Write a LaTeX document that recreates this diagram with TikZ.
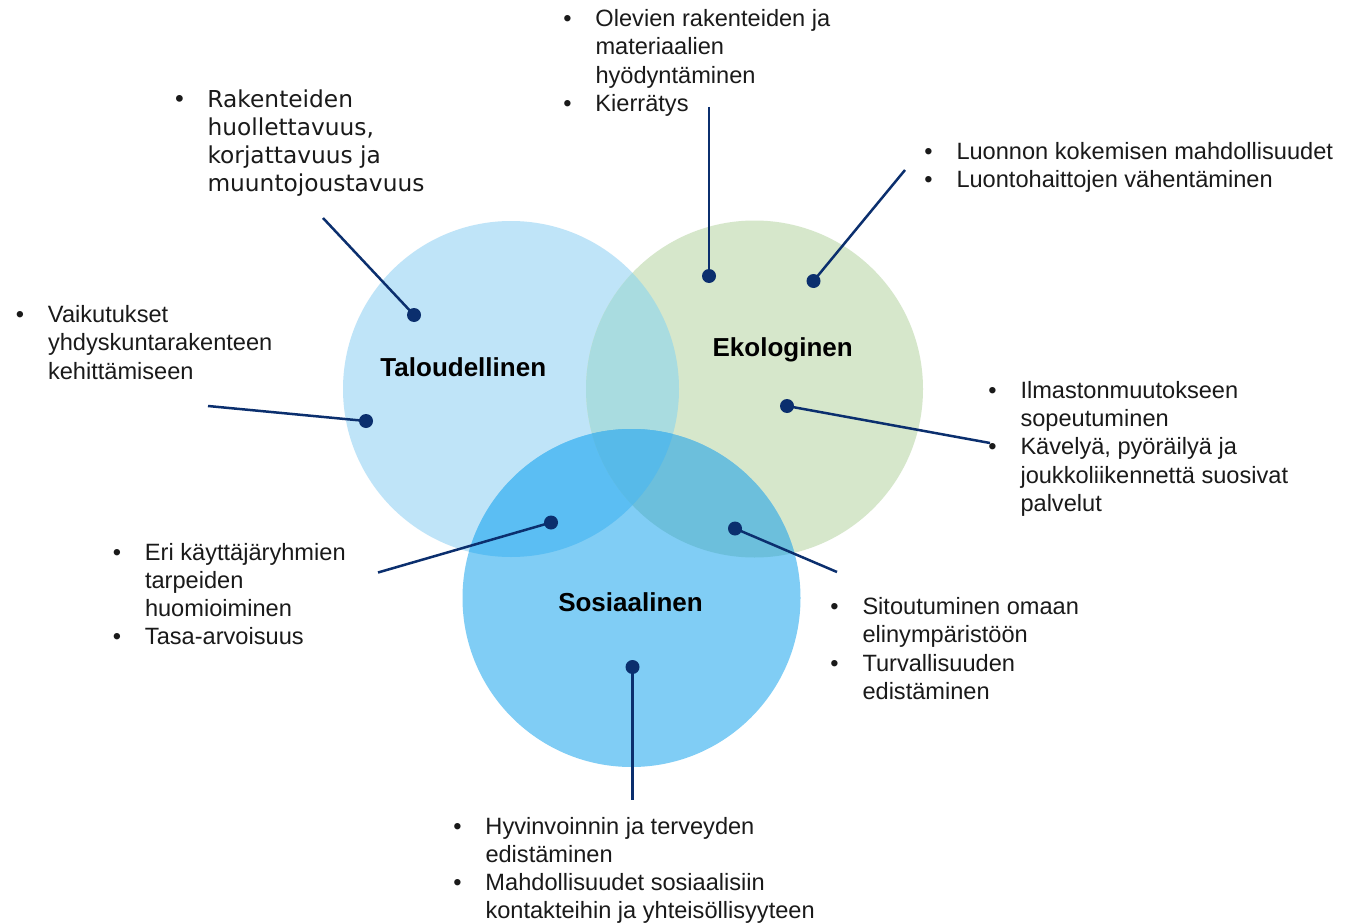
\documentclass[tikz,border=0pt]{standalone}
\usepackage{fontspec}
\setmainfont{Liberation Sans}
\newfontfamily\verdfont{DejaVu Sans}
\definecolor{taloc}{HTML}{BFE4F8}
\definecolor{ekoc}{HTML}{D6E7CB}
\definecolor{sosc}{HTML}{80CDF5}
\definecolor{tec}{HTML}{A9DCE0}
\definecolor{tsc}{HTML}{5BBEF3}
\definecolor{esc}{HTML}{6CBFDC}
\definecolor{allc}{HTML}{57BAE9}
\definecolor{navy}{HTML}{0B2F6E}
\definecolor{textc}{HTML}{1A1A1A}
\newcommand\bitem[1]{\hbox{\llap{\makebox[56pt]{\textbullet}}#1}}
\newcommand\citem[1]{\hbox{#1}}
\newcommand\blk[1]{\vtop{#1}}
\tikzset{
  txt/.style={anchor=base west, inner sep=0pt, outer sep=0pt, text=textc,
    font=\fontsize{23.6pt}{28.3pt}\selectfont},
  vtxt/.style={anchor=base west, inner sep=0pt, outer sep=0pt, text=textc,
    font=\verdfont\fontsize{23.3pt}{28pt}\selectfont},
  lab/.style={anchor=base, inner sep=0pt, text=black,
    font=\bfseries\fontsize{26pt}{30pt}\selectfont},
  dot/.style={circle, fill=navy, inner sep=0pt, minimum size=14pt},
  conn/.style={draw=navy, line width=2.5pt},
}
\begin{document}
\begin{tikzpicture}[x=1pt,y=-1pt]
\useasboundingbox (0,0) rectangle (1357,923);
\fill[white] (0,0) rectangle (1357,923);
% circles
\coordinate (ct) at (511,389);
\coordinate (ce) at (754.5,389);
\coordinate (cs) at (631.5,598);
\fill[taloc] (ct) circle[radius=168pt];
\fill[ekoc] (ce) circle[radius=168.5pt];
\fill[sosc] (cs) circle[radius=169pt];
\begin{scope}
  \clip (ct) circle[radius=168pt];
  \fill[tec] (ce) circle[radius=168.5pt];
  \fill[tsc] (cs) circle[radius=169pt];
\end{scope}
\begin{scope}
  \clip (ce) circle[radius=168.5pt];
  \fill[esc] (cs) circle[radius=169pt];
\end{scope}
\begin{scope}
  \clip (ct) circle[radius=168pt];
  \clip (ce) circle[radius=168.5pt];
  \fill[allc] (cs) circle[radius=169pt];
\end{scope}
% circle labels
\node[lab] (lT) at (463.3,376) {Taloudellinen};
\node[lab] (lE) at (782.7,356.7) {Ekologinen};
\node[lab] (lS) at (630.5,611) {Sosiaalinen};
% dots
\node[dot] (d1) at (414,315) {};
\node[dot] (d2) at (366,421) {};
\node[dot] (d3) at (709,276) {};
\node[dot] (d4) at (813.5,281) {};
\node[dot] (d5) at (787,406) {};
\node[dot] (d6) at (551,522.5) {};
\node[dot] (d7) at (735,528.5) {};
\node[dot] (d8) at (632.5,667) {};
% free ends
\coordinate (e1) at (323,218);
\coordinate (e2) at (208,406);
\coordinate (e3) at (709,107);
\coordinate (e4) at (905,170);
\coordinate (e5) at (990,443);
\coordinate (e6) at (378,572.5);
\coordinate (e7) at (837,572);
\coordinate (e8) at (632.5,800);
\draw[conn] (e1) -- (d1.center);
\draw[conn] (e2) -- (d2.center);
\draw[conn] (e3) -- (d3.center);
\draw[conn] (e4) -- (d4.center);
\draw[conn] (d5.center) -- (e5);
\draw[conn] (e6) -- (d6.center);
\draw[conn] (d7.center) -- (e7);
\draw[conn] (d8.center) -- (e8);
% text blocks
\node[txt] (t1) at (595.5,26.7) {\blk{\bitem{Olevien rakenteiden ja}\citem{materiaalien}\citem{hyödyntäminen}\bitem{Kierrätys}}};
\node[vtxt] (t2) at (207.5,107.5) {\blk{\bitem{Rakenteiden}\citem{huollettavuus,}\citem{korjattavuus ja}\citem{muuntojoustavuus}}};
\node[txt] (t3) at (956.5,159) {\blk{\bitem{Luonnon kokemisen mahdollisuudet}\bitem{Luontohaittojen vähentäminen}}};
\node[txt] (t4) at (48,322.5) {\blk{\bitem{Vaikutukset}\citem{yhdyskuntarakenteen}\citem{kehittämiseen}}};
\node[txt] (t5) at (1020.5,398.3) {\blk{\bitem{Ilmastonmuutokseen}\citem{sopeutuminen}\bitem{Kävelyä, pyöräilyä ja}\citem{joukkoliikennettä suosivat}\citem{palvelut}}};
\node[txt] (t6) at (145,560) {\blk{\bitem{Eri käyttäjäryhmien}\citem{tarpeiden}\citem{huomioiminen}\bitem{Tasa-arvoisuus}}};
\node[txt] (t7) at (862.5,614.5) {\blk{\bitem{Sitoutuminen omaan}\citem{elinympäristöön}\bitem{Turvallisuuden}\citem{edistäminen}}};
\node[txt] (t8) at (485.5,834) {\blk{\bitem{Hyvinvoinnin ja terveyden}\citem{edistäminen}\bitem{Mahdollisuudet sosiaalisiin}\citem{kontakteihin ja yhteisöllisyyteen}}};
\end{tikzpicture}
\end{document}
